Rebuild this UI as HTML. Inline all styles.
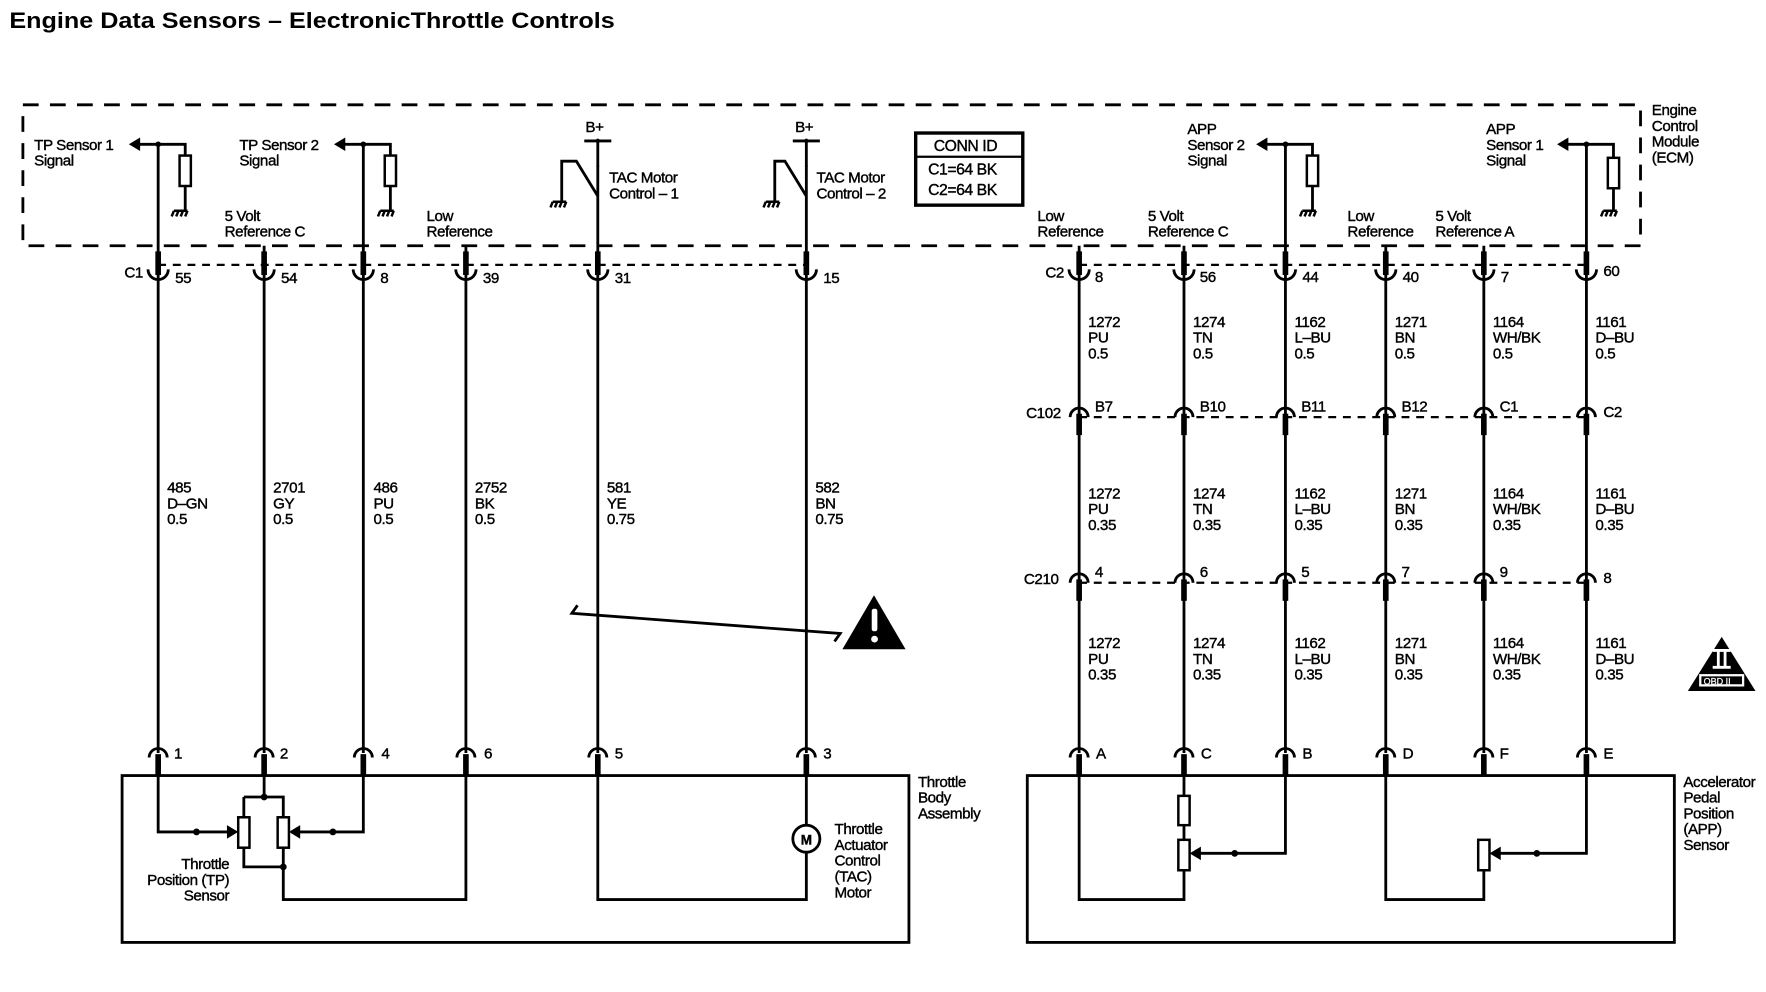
<!DOCTYPE html>
<html><head><meta charset="utf-8"><style>
html,body{margin:0;padding:0;background:#fff;}
svg{display:block}
text{font-family:"Liberation Sans",Arial,sans-serif;font-size:13.5px;fill:#000;stroke:#000;stroke-width:0.35px;letter-spacing:-0.4px}
</style></head><body>
<svg width="1766" height="992" viewBox="0 0 1566 880" xmlns="http://www.w3.org/2000/svg">
<defs>
<g id="cu"><rect x="-2.5" y="-17" width="5" height="21" fill="#000"/><path d="M-9,-1 A9,9 0 0 0 9,-1" fill="none" stroke="#000" stroke-width="2.5"/></g>
<g id="cap"><path d="M-8,8 A8,8 0 0 1 8,8" fill="none" stroke="#000" stroke-width="2.5"/><rect x="-2.5" y="5" width="5" height="19" fill="#000"/></g>
<g id="gnd"><path d="M-6,0 H6 M-6,0 L-8,5 M-2,0 L-4,5 M2,0 L0,5 M6,0 L4,5" stroke="#000" stroke-width="2.2" fill="none"/></g>
</defs>
<g stroke="#000" fill="none">
<path d="M20,93 H1455 V218 H20 Z" stroke-width="2.5" stroke-dasharray="14,10"/>
<path d="M140,235 H715" stroke-width="2" stroke-dasharray="7,6"/>
<path d="M957,235 H1407" stroke-width="2" stroke-dasharray="7,6"/>
<path d="M957,370 H1407" stroke-width="2" stroke-dasharray="7,6"/>
<path d="M957,517 H1407" stroke-width="2" stroke-dasharray="7,6"/>
<path d="M140,128 V668 M234,218 V668 M322,128 V668 M413,218 V668 M530,147 V668 M715,147 V668" stroke-width="2.5"/>
<path d="M957,218 V668 M1050,218 V668 M1140,128 V668 M1229,218 V668 M1316,218 V668 M1407,128 V668" stroke-width="2.5"/>
<path d="M122,128 H164 V138 M164,165 V186" stroke-width="2.5"/>
<path d="M304,128 H346 V138 M346,165 V186" stroke-width="2.5"/>
<rect x="159" y="138" width="10" height="27" stroke-width="2.2"/>
<rect x="341" y="138" width="10" height="27" stroke-width="2.2"/>
<path d="M1122,128 H1164 V138 M1164,165 V186" stroke-width="2.5"/>
<path d="M1389,128 H1431 V140 M1431,167 V186" stroke-width="2.5"/>
<rect x="1159" y="138" width="10" height="27" stroke-width="2.2"/>
<rect x="1426" y="140" width="10" height="27" stroke-width="2.2"/>
<path d="M518,125 H542 M530,125 V148" stroke-width="2.5"/>
<path d="M498,178 V143 H511 L530,174" stroke-width="2.5"/>
<path d="M703,125 H727 M715,125 V148" stroke-width="2.5"/>
<path d="M687,178 V143 H696 L715,174" stroke-width="2.5"/>
<rect x="812" y="118" width="95" height="64" stroke-width="3"/>
<path d="M812,139 H907" stroke-width="2"/>
<rect x="108" y="688" width="698" height="148" stroke-width="2.5"/>
<path d="M140,688 V738 H208 M322,688 V738 H260 M234,688 V707 M216,707 H251 V725 M216,707 V725 M216,752 V769 H251 M251,752 V798 H413 V688" stroke-width="2.5"/>
<rect x="211" y="725" width="10" height="27" stroke-width="2.2"/>
<rect x="246" y="725" width="10" height="27" stroke-width="2.2"/>
<path d="M530,688 V798 H715 V756 M715,732 V688" stroke-width="2.5"/>
<circle cx="715" cy="744" r="12" stroke-width="2.5"/>
<rect x="911" y="688" width="574" height="148" stroke-width="2.5"/>
<path d="M957,688 V798 H1050 V772 M1050,688 V706 M1050,732 V745 M1140,688 V757 H1062" stroke-width="2.5"/>
<rect x="1045" y="706" width="10" height="26" stroke-width="2.2"/>
<rect x="1045" y="745" width="10" height="27" stroke-width="2.2"/>
<path d="M1229,688 V798 H1316 V772 M1407,688 V757 H1328" stroke-width="2.5"/>
<rect x="1311" y="745" width="10" height="27" stroke-width="2.2"/>
<path d="M512,537 L507,544 L745,562 L740,569" stroke-width="2.5"/>
</g>
<g fill="#000">
<path d="M114,128 L124,122 L124,134 Z"/><path d="M296,128 L306,122 L306,134 Z"/>
<path d="M1114,128 L1124,122 L1124,134 Z"/><path d="M1381,128 L1391,122 L1391,134 Z"/>
<circle cx="140" cy="128" r="2.5"/><circle cx="322" cy="128" r="2.5"/><circle cx="1140" cy="128" r="2.5"/><circle cx="1407" cy="128" r="2.5"/>
<circle cx="530" cy="125" r="2"/><circle cx="715" cy="125" r="2"/>
<path d="M211,738 L201,732 L201,744 Z"/><path d="M256,738 L266,732 L266,744 Z"/>
<circle cx="174" cy="738" r="3"/><circle cx="295" cy="738" r="3"/>
<circle cx="234" cy="707" r="3"/><circle cx="251" cy="769" r="3"/>
<path d="M1055,757 L1065,751 L1065,763 Z"/><circle cx="1095" cy="757" r="3"/>
<path d="M1321,757 L1331,751 L1331,763 Z"/><circle cx="1363" cy="757" r="3"/>
<path d="M775,528 L803,576 L747,576 Z"/>
<path d="M1527,565 L1557,613 L1497,613 Z"/>
</g>
<rect x="773" y="540" width="5" height="20" fill="#fff" rx="2"/><circle cx="775.5" cy="567" r="3" fill="#fff"/>
<rect x="1507" y="598" width="40" height="11" fill="#fff"/><rect x="1509" y="600" width="36" height="7" fill="#000"/>
<text x="1511" y="607" style="font-size:8px;fill:#fff;stroke:#fff;stroke-width:0.2px;letter-spacing:0">OBD II</text>
<path d="M1519,577 H1535 M1519,592 H1535 M1524,577 V592 M1530,577 V592" stroke="#fff" stroke-width="2.5"/>
<use href="#gnd" x="160" y="187"/><use href="#gnd" x="343" y="187"/><use href="#gnd" x="496" y="179"/><use href="#gnd" x="685" y="179"/>
<use href="#gnd" x="1161" y="187"/><use href="#gnd" x="1428" y="187"/>
<use href="#cu" x="140" y="240"/><use href="#cu" x="234" y="240"/><use href="#cu" x="322" y="240"/><use href="#cu" x="413" y="240"/><use href="#cu" x="530" y="240"/><use href="#cu" x="715" y="240"/>
<use href="#cu" x="957" y="240"/><use href="#cu" x="1050" y="240"/><use href="#cu" x="1140" y="240"/><use href="#cu" x="1229" y="240"/><use href="#cu" x="1316" y="240"/><use href="#cu" x="1407" y="240"/>
<g>
<use href="#cap" x="957" y="362"/><use href="#cap" x="1050" y="362"/><use href="#cap" x="1140" y="362"/><use href="#cap" x="1229" y="362"/><use href="#cap" x="1316" y="362"/><use href="#cap" x="1407" y="362"/>
<use href="#cap" x="957" y="509"/><use href="#cap" x="1050" y="509"/><use href="#cap" x="1140" y="509"/><use href="#cap" x="1229" y="509"/><use href="#cap" x="1316" y="509"/><use href="#cap" x="1407" y="509"/>
<use href="#cap" x="140" y="664"/><use href="#cap" x="234" y="664"/><use href="#cap" x="322" y="664"/><use href="#cap" x="413" y="664"/><use href="#cap" x="530" y="664"/><use href="#cap" x="715" y="664"/>
<use href="#cap" x="957" y="664"/><use href="#cap" x="1050" y="664"/><use href="#cap" x="1140" y="664"/><use href="#cap" x="1229" y="664"/><use href="#cap" x="1316" y="664"/><use href="#cap" x="1407" y="664"/>
</g>
<text x="8" y="25" textLength="537" lengthAdjust="spacingAndGlyphs" style="font-size:20px;font-weight:bold;letter-spacing:0;stroke-width:0">Engine Data Sensors – ElectronicThrottle Controls</text>
<text x="30" y="133">TP Sensor 1</text><text x="30" y="147">Signal</text>
<text x="212" y="133">TP Sensor 2</text><text x="212" y="147">Signal</text>
<text x="199" y="196">5 Volt</text><text x="199" y="210">Reference C</text>
<text x="378" y="196">Low</text><text x="378" y="210">Reference</text>
<text x="519" y="117">B+</text><text x="705" y="117">B+</text>
<text x="540" y="162">TAC Motor</text><text x="540" y="176">Control – 1</text>
<text x="724" y="162">TAC Motor</text><text x="724" y="176">Control – 2</text>
<text x="828" y="134" style="font-size:14px">CONN ID</text>
<text x="823" y="155" style="font-size:14px">C1=64 BK</text><text x="823" y="173" style="font-size:14px">C2=64 BK</text>
<text x="1053" y="119">APP</text><text x="1053" y="133">Sensor 2</text><text x="1053" y="147">Signal</text>
<text x="1318" y="119">APP</text><text x="1318" y="133">Sensor 1</text><text x="1318" y="147">Signal</text>
<text x="1465" y="102">Engine</text><text x="1465" y="116">Control</text><text x="1465" y="130">Module</text><text x="1465" y="144">(ECM)</text>
<text x="920" y="196">Low</text><text x="920" y="210">Reference</text>
<text x="1018" y="196">5 Volt</text><text x="1018" y="210">Reference C</text>
<text x="1195" y="196">Low</text><text x="1195" y="210">Reference</text>
<text x="1273" y="196">5 Volt</text><text x="1273" y="210">Reference A</text>
<text x="110" y="246">C1</text>
<text x="155" y="251">55</text><text x="249" y="251">54</text><text x="337" y="251">8</text><text x="428" y="251">39</text><text x="545" y="251">31</text><text x="730" y="251">15</text>
<text x="927" y="246">C2</text>
<text x="971" y="250">8</text><text x="1064" y="250">56</text><text x="1155" y="250">44</text><text x="1244" y="250">40</text><text x="1331" y="250">7</text><text x="1422" y="245">60</text>
<text x="148" y="437">485</text><text x="148" y="451">D–GN</text><text x="148" y="465">0.5</text>
<text x="242" y="437">2701</text><text x="242" y="451">GY</text><text x="242" y="465">0.5</text>
<text x="331" y="437">486</text><text x="331" y="451">PU</text><text x="331" y="465">0.5</text>
<text x="421" y="437">2752</text><text x="421" y="451">BK</text><text x="421" y="465">0.5</text>
<text x="538" y="437">581</text><text x="538" y="451">YE</text><text x="538" y="465">0.75</text>
<text x="723" y="437">582</text><text x="723" y="451">BN</text><text x="723" y="465">0.75</text>
<g>
<text x="965" y="290">1272</text><text x="965" y="304">PU</text><text x="965" y="318">0.5</text>
<text x="1058" y="290">1274</text><text x="1058" y="304">TN</text><text x="1058" y="318">0.5</text>
<text x="1148" y="290">1162</text><text x="1148" y="304">L–BU</text><text x="1148" y="318">0.5</text>
<text x="1237" y="290">1271</text><text x="1237" y="304">BN</text><text x="1237" y="318">0.5</text>
<text x="1324" y="290">1164</text><text x="1324" y="304">WH/BK</text><text x="1324" y="318">0.5</text>
<text x="1415" y="290">1161</text><text x="1415" y="304">D–BU</text><text x="1415" y="318">0.5</text>
</g>
<g>
<text x="965" y="442">1272</text><text x="965" y="456">PU</text><text x="965" y="470">0.35</text>
<text x="1058" y="442">1274</text><text x="1058" y="456">TN</text><text x="1058" y="470">0.35</text>
<text x="1148" y="442">1162</text><text x="1148" y="456">L–BU</text><text x="1148" y="470">0.35</text>
<text x="1237" y="442">1271</text><text x="1237" y="456">BN</text><text x="1237" y="470">0.35</text>
<text x="1324" y="442">1164</text><text x="1324" y="456">WH/BK</text><text x="1324" y="470">0.35</text>
<text x="1415" y="442">1161</text><text x="1415" y="456">D–BU</text><text x="1415" y="470">0.35</text>
</g>
<g>
<text x="965" y="575">1272</text><text x="965" y="589">PU</text><text x="965" y="603">0.35</text>
<text x="1058" y="575">1274</text><text x="1058" y="589">TN</text><text x="1058" y="603">0.35</text>
<text x="1148" y="575">1162</text><text x="1148" y="589">L–BU</text><text x="1148" y="603">0.35</text>
<text x="1237" y="575">1271</text><text x="1237" y="589">BN</text><text x="1237" y="603">0.35</text>
<text x="1324" y="575">1164</text><text x="1324" y="589">WH/BK</text><text x="1324" y="603">0.35</text>
<text x="1415" y="575">1161</text><text x="1415" y="589">D–BU</text><text x="1415" y="603">0.35</text>
</g>
<text x="910" y="371">C102</text>
<text x="971" y="365">B7</text><text x="1064" y="365">B10</text><text x="1154" y="365">B11</text><text x="1243" y="365">B12</text><text x="1330" y="365">C1</text><text x="1422" y="370">C2</text>
<text x="908" y="518">C210</text>
<text x="971" y="512">4</text><text x="1064" y="512">6</text><text x="1154" y="512">5</text><text x="1243" y="512">7</text><text x="1330" y="512">9</text><text x="1422" y="517">8</text>
<text x="154" y="673">1</text><text x="248" y="673">2</text><text x="338" y="673">4</text><text x="429" y="673">6</text><text x="545" y="673">5</text><text x="730" y="673">3</text>
<text x="972" y="673">A</text><text x="1065" y="673">C</text><text x="1155" y="673">B</text><text x="1244" y="673">D</text><text x="1330" y="673">F</text><text x="1422" y="673">E</text>
<text x="814" y="698">Throttle</text><text x="814" y="712">Body</text><text x="814" y="726">Assembly</text>
<text x="203" y="771" text-anchor="end">Throttle</text><text x="203" y="785" text-anchor="end">Position (TP)</text><text x="203" y="799" text-anchor="end">Sensor</text>
<text x="710" y="749" style="font-size:12px;font-weight:bold">M</text>
<text x="740" y="740">Throttle</text><text x="740" y="754">Actuator</text><text x="740" y="768">Control</text><text x="740" y="782">(TAC)</text><text x="740" y="796">Motor</text>
<text x="1493" y="698">Accelerator</text><text x="1493" y="712">Pedal</text><text x="1493" y="726">Position</text><text x="1493" y="740">(APP)</text><text x="1493" y="754">Sensor</text>
</svg>
</body></html>
